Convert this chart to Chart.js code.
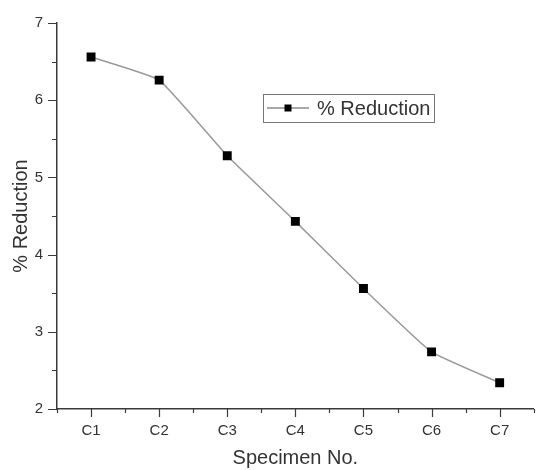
<!DOCTYPE html>
<html>
<head>
<meta charset="utf-8">
<script src="https://cdn.jsdelivr.net/npm/chart.js@4/dist/chart.umd.min.js"></script>
<style>
  html, body { margin: 0; padding: 0; background: #fff; }
  #wrap { width: 540px; height: 470px; }
</style>
</head>
<body>
<div id="wrap"><canvas id="c" width="540" height="470"></canvas></div>
<script>
// Specimens and the measured reduction for each
const categories = ['C1', 'C2', 'C3', 'C4', 'C5', 'C6', 'C7'];
const reduction = [6.56, 6.26, 5.28, 4.43, 3.56, 2.74, 2.34];
const seriesName = '% Reduction';
const yTicks = [2, 3, 4, 5, 6, 7];

const FONT = "'Liberation Sans', Arial, sans-serif";
const TEXT = '#333';
const AXIS = '#3a3a3a';

// Origin-style tick marks: long major ticks, short minor ticks, all outward
const tickMarks = {
  id: 'tickMarks',
  afterDraw(chart) {
    const ctx = chart.ctx;
    const x = chart.scales.x, y = chart.scales.y;
    ctx.save();
    ctx.strokeStyle = AXIS;
    ctx.lineWidth = 1.2;
    ctx.beginPath();
    // y axis
    for (let v = yTicks[0]; v <= yTicks[yTicks.length - 1] + 1e-9; v += 0.5) {
      const py = Math.round(y.getPixelForValue(v)) + 0.5;
      const major = Math.abs(v - Math.round(v)) < 1e-9;
      ctx.moveTo(y.right, py);
      ctx.lineTo(y.right - (major ? 9 : 5), py);
    }
    // x axis
    for (let i = -0.5; i <= categories.length - 0.5 + 1e-9; i += 0.5) {
      const px = Math.round(x.getPixelForValue(i)) + 0.5;
      const major = Math.abs(i - Math.round(i)) < 1e-9;
      ctx.moveTo(px, x.top);
      ctx.lineTo(px, x.top + (major ? 8 : 4));
    }
    ctx.stroke();
    ctx.restore();
  }
};

// Boxed legend inside the plot area
const boxLegend = {
  id: 'boxLegend',
  afterDraw(chart) {
    const ctx = chart.ctx;
    const ds = chart.data.datasets[0];
    const left = 263, top = 94, w = 171, h = 28;
    const cy = top + h / 2;
    ctx.save();
    ctx.fillStyle = '#fff';
    ctx.fillRect(left, top, w, h);
    ctx.strokeStyle = '#777';
    ctx.lineWidth = 1;
    ctx.strokeRect(left + 0.5, top + 0.5, w, h);
    ctx.strokeStyle = '#555';
    ctx.lineWidth = 1.2;
    ctx.beginPath();
    ctx.moveTo(267, cy);
    ctx.lineTo(309, cy);
    ctx.stroke();
    ctx.fillStyle = ds.pointBackgroundColor;
    ctx.fillRect(288 - 3.5, cy - 3.5, 7, 7);
    ctx.fillStyle = TEXT;
    ctx.font = '20px ' + FONT;
    ctx.textBaseline = 'middle';
    ctx.textAlign = 'left';
    ctx.fillText(ds.label, 317, cy + 1);
    ctx.restore();
  }
};

new Chart(document.getElementById('c'), {
  type: 'line',
  data: {
    labels: categories,
    datasets: [{
      label: seriesName,
      data: reduction,
      borderColor: '#999',
      borderWidth: 1.5,
      tension: 0.12,
      pointStyle: 'rect',
      pointRadius: 6.3,
      pointBorderWidth: 0,
      pointBackgroundColor: '#000',
      pointBorderColor: '#000'
    }]
  },
  options: {
    responsive: false,
    animation: false,
    devicePixelRatio: 1,
    layout: { padding: { top: 20, right: 1, left: 0, bottom: 0 } },
    plugins: { legend: { display: false }, tooltip: { enabled: false } },
    scales: {
      x: {
        type: 'category',
        offset: true,
        grid: { display: true, drawOnChartArea: false, drawTicks: false },
        border: { display: true, color: AXIS, width: 1.5 },
        ticks: { color: TEXT, font: { family: FONT, size: 15 }, padding: 13, maxRotation: 0 },
        title: { display: true, text: 'Specimen No.', color: TEXT, font: { family: FONT, size: 20 }, padding: { top: 0, bottom: 0 } },
        afterFit(scale) { scale.height = 61; }
      },
      y: {
        min: yTicks[0],
        max: yTicks[yTicks.length - 1],
        afterBuildTicks(scale) { scale.ticks = yTicks.map(v => ({ value: v })); },
        grid: { display: true, drawOnChartArea: false, drawTicks: false },
        border: { display: true, color: AXIS, width: 1.5 },
        ticks: { color: TEXT, font: { family: FONT, size: 15 }, padding: 14 },
        title: { display: true, text: seriesName, color: TEXT, font: { family: FONT, size: 20 }, padding: { top: 9, bottom: 0 } },
        afterFit(scale) { scale.width = 57; }
      }
    }
  },
  plugins: [tickMarks, boxLegend]
});
</script>
</body>
</html>
